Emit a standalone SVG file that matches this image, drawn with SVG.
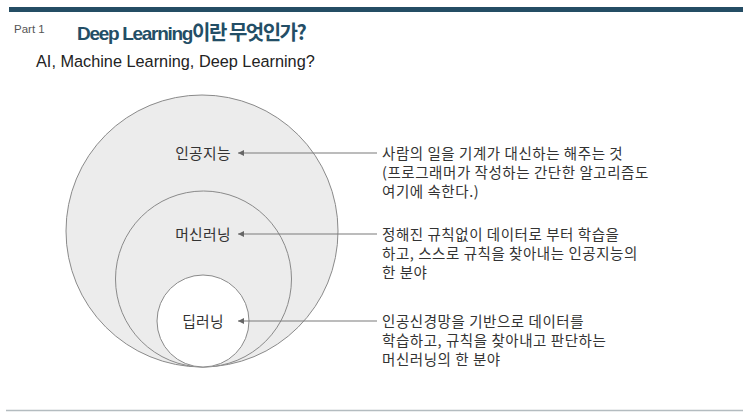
<svg xmlns="http://www.w3.org/2000/svg" width="743" height="418" viewBox="0 0 743 418">
  <defs>
    <style>
      .lbl { font-family: "Noto Sans CJK KR", "Noto Sans", sans-serif; font-size: 14.8px; letter-spacing: 0.3px; fill: #333; }
      .desc { font-family: "Noto Sans CJK KR", "Noto Sans", sans-serif; font-size: 14.5px; letter-spacing: 0.55px; fill: #333; }
      .ring { fill: #ececec; stroke: #8a8a8a; stroke-width: 1; }
      .conn { stroke: #7a7a7a; stroke-width: 1.2; fill: none; marker-end: url(#arr); }
    </style>
    <marker id="arr" viewBox="0 0 10 10" refX="10" refY="5" markerWidth="8" markerHeight="6" markerUnits="userSpaceOnUse" orient="auto">
      <path d="M0,0 L10,5 L0,10 Z" fill="#666"/>
    </marker>
  </defs>
  <rect width="743" height="418" fill="#ffffff"/>
  <rect x="9" y="7" width="734" height="5" fill="#244d64"/>
  <line x1="6" y1="410.5" x2="743" y2="410.5" stroke="#b4bcc0" stroke-width="1.5"/>

  <g id="header">
    <text x="14" y="33" font-family="Liberation Sans, Arial, sans-serif" font-size="11.5" fill="#555">Part 1</text>
    <text x="77" y="39.5" font-family="Liberation Sans, 'Noto Sans CJK KR', sans-serif" font-weight="bold" fill="#234e66"><tspan font-size="19" letter-spacing="-1.3">Deep Learning</tspan><tspan font-family="'Noto Sans CJK KR', sans-serif" font-size="20" letter-spacing="-1.5">이란 무엇인가?</tspan></text>
    <text x="36" y="67" font-family="Liberation Sans, Arial, sans-serif" font-size="16.3" fill="#222">AI, Machine Learning, Deep Learning?</text>
  </g>

  <g id="ai">
    <circle class="ring" cx="202" cy="231" r="136"/>
    <text class="lbl" x="203" y="158.5" text-anchor="middle">인공지능</text>
  </g>
  <g id="ml">
    <circle class="ring" cx="203.5" cy="279" r="88"/>
    <text class="lbl" x="203" y="239.5" text-anchor="middle">머신러닝</text>
  </g>
  <g id="dl">
    <circle cx="203" cy="321" r="46" fill="#ffffff" stroke="#8a8a8a" stroke-width="1"/>
    <text class="lbl" x="203" y="326.5" text-anchor="middle">딥러닝</text>
  </g>

  <g id="connectors">
    <line class="conn" x1="377" y1="153" x2="238" y2="153"/>
    <line class="conn" x1="377" y1="234" x2="238" y2="234"/>
    <line class="conn" x1="377" y1="321" x2="238" y2="321"/>
  </g>

  <g id="desc-ai">
    <text class="desc" x="382" y="158.5">사람의 일을 기계가 대신하는 해주는 것</text>
    <text class="desc" x="382" y="177.5">(프로그래머가 작성하는 간단한 알고리즘도</text>
    <text class="desc" x="382" y="196.5">여기에 속한다.)</text>
  </g>
  <g id="desc-ml">
    <text class="desc" x="382" y="240">정해진 규칙없이 데이터로 부터 학습을</text>
    <text class="desc" x="382" y="259">하고, 스스로 규칙을 찾아내는 인공지능의</text>
    <text class="desc" x="382" y="278">한 분야</text>
  </g>
  <g id="desc-dl">
    <text class="desc" x="382" y="327">인공신경망을 기반으로 데이터를</text>
    <text class="desc" x="382" y="346">학습하고, 규칙을 찾아내고 판단하는</text>
    <text class="desc" x="382" y="365">머신러닝의 한 분야</text>
  </g>
</svg>
